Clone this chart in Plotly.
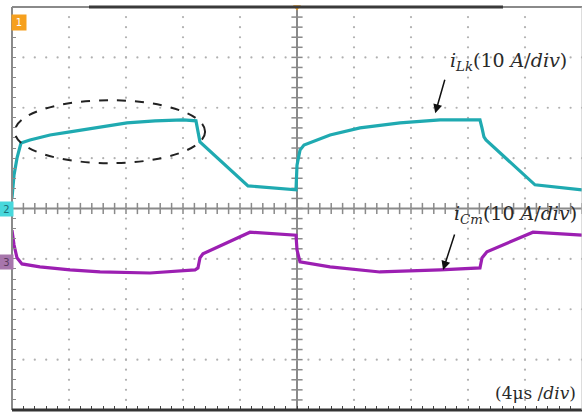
import numpy as np
import plotly.graph_objects as go

# time in microseconds (4 us/div), current in A (10 A/div)
t_lk = [0, 0.14, 0.35, 0.63, 1.26, 2.67, 4.07, 6.18, 8.07, 10.04, 12.0, 12.91, 13.05, 13.19,
        16.56, 19.93, 20.0, 20.21, 20.49, 22.32, 24.42, 27.23, 30.04, 32.84, 32.98, 33.12,
        33.26, 36.7, 40.0]
i_lk = [2.1, 6.6, 10.0, 13.0, 13.6, 14.6, 15.2, 16.2, 17.0, 17.4, 17.6, 17.4, 15.2, 13.2,
        4.5, 3.7, 8.6, 11.6, 12.6, 14.6, 16.0, 17.0, 17.6, 17.6, 16.0, 14.2,
        13.6, 4.7, 3.7]

t_cm = [0, 0.14, 0.35, 0.7, 1.96, 4.07, 6.18, 9.68, 12.84, 13.05, 13.19, 13.4, 16.7, 19.93,
        20.0, 20.21, 22.32, 25.82, 30.04, 32.84, 32.98, 33.33, 36.56, 40.0]
i_cm = [-4.3, -7.2, -9.8, -11.0, -11.6, -12.2, -12.6, -12.8, -12.2, -11.8, -9.8, -9.0, -4.7, -5.3,
        -8.2, -10.6, -11.6, -12.6, -12.2, -11.8, -9.8, -8.6, -4.7, -5.3]

label_lk = "<i>i</i><sub><i>Lk</i></sub>(10 <i>A</i>/<i>div</i>)"
label_cm = "<i>i</i><sub><i>Cm</i></sub>(10 <i>A</i>/<i>div</i>)"
label_t = "(4μs /<i>div</i>)"

X_DIV, Y_DIV = 4.0, 10.0
NX, NY = 10, 8
X0, X1 = 0.0, X_DIV * NX
Y0, Y1 = -Y_DIV * NY / 2, Y_DIV * NY / 2

TEAL = "#1faab1"
MAG = "#9c1fb2"
GRID = "#b0b0b0"
AX = "#8a8a8a"
TXT = "#2a2a2a"

fig = go.Figure()

# graticule dots
gx, gy = [], []
for k in range(1, NX):
    if k == NX // 2:
        continue
    for yy in np.arange(Y0, Y1 + 1e-9, Y_DIV / 5):
        gx.append(k * X_DIV); gy.append(yy)
for k in range(-NY // 2 + 1, NY // 2):
    if k == 0:
        continue
    for xx in np.arange(X0, X1 + 1e-9, X_DIV / 5):
        gx.append(xx); gy.append(k * Y_DIV)
fig.add_trace(go.Scatter(x=gx, y=gy, mode="markers",
                         marker=dict(size=2.2, color=GRID), hoverinfo="skip"))

# centre axes ticks
cx = np.arange(X0, X1 + 1e-9, X_DIV / 5)
cy = np.arange(Y0, Y1 + 1e-9, Y_DIV / 5)
fig.add_trace(go.Scatter(x=cx, y=[0] * len(cx), mode="markers",
                         marker=dict(symbol="line-ns", size=8, line=dict(width=1.5, color=AX)),
                         hoverinfo="skip"))
fig.add_trace(go.Scatter(x=[X1 / 2] * len(cy), y=cy, mode="markers",
                         marker=dict(symbol="line-ew", size=8, line=dict(width=1.5, color=AX)),
                         hoverinfo="skip"))

fig.add_shape(type="line", x0=X0, x1=X1, y0=0, y1=0, line=dict(color=AX, width=2), layer="below")
fig.add_shape(type="line", x0=X1 / 2, x1=X1 / 2, y0=Y0, y1=Y1, line=dict(color=AX, width=2), layer="below")

# traces
fig.add_trace(go.Scatter(x=t_lk, y=i_lk, mode="lines", line=dict(color=TEAL, width=3.2), hoverinfo="skip"))
fig.add_trace(go.Scatter(x=t_cm, y=i_cm, mode="lines", line=dict(color=MAG, width=3.2), hoverinfo="skip"))

# dashed ellipse
fig.add_shape(type="circle", x0=0.2, x1=13.55, y0=9.0, y1=21.5,
              line=dict(color="#222", width=2, dash="dash"))

# borders
fig.add_shape(type="line", xref="paper", yref="paper", x0=0, x1=0, y0=0, y1=1, line=dict(color=AX, width=2))
fig.add_shape(type="line", xref="paper", yref="paper", x0=0, x1=1, y0=1, y1=1, line=dict(color=AX, width=2))
fig.add_shape(type="line", xref="paper", yref="paper", x0=77 / 570, x1=491 / 570, y0=1, y1=1,
              line=dict(color="#3a3a3a", width=3))
fig.add_shape(type="line", xref="paper", yref="paper", x0=0, x1=1, y0=0, y1=0, line=dict(color="#333", width=3))
fig.add_shape(type="line", xref="paper", yref="paper", x0=1, x1=1, y0=0, y1=1, line=dict(color="#bbb", width=1))

# annotations
fig.add_annotation(x=30.6, y=29.1, text=label_lk, showarrow=False, xanchor="left", yanchor="middle",
                   font=dict(family="DejaVu Serif", size=19, color=TXT))
fig.add_annotation(x=30.9, y=-1.1, text=label_cm, showarrow=False, xanchor="left", yanchor="middle",
                   font=dict(family="DejaVu Serif", size=19, color=TXT))
fig.add_annotation(x=39.7, y=-36.6, text=label_t, showarrow=False, xanchor="right", yanchor="middle",
                   font=dict(family="DejaVu Serif", size=17, color=TXT))
fig.add_annotation(x=29.7, y=18.9, ax=10, ay=-35, text="", showarrow=True,
                   arrowhead=2, arrowsize=1.2, arrowwidth=1.5, arrowcolor="#111")
fig.add_annotation(x=30.25, y=-12.2, ax=12, ay=-37, text="", showarrow=True,
                   arrowhead=2, arrowsize=1.2, arrowwidth=1.5, arrowcolor="#111")

# channel markers
fig.add_annotation(xref="paper", yref="paper", x=7 / 570, y=1 - 15 / 403, text="1", showarrow=False,
                   xanchor="center", yanchor="middle",
                   bgcolor="#f6a01e", font=dict(color="white", size=10, family="DejaVu Sans"),
                   borderpad=1, width=12, height=13)
fig.add_annotation(xref="paper", x=-6 / 570, y=0, text="2", showarrow=False,
                   xanchor="center", yanchor="middle",
                   bgcolor="#48d8dc", font=dict(color="#1a6f78", size=10, family="DejaVu Sans"),
                   borderpad=1, width=11, height=12)
fig.add_annotation(xref="paper", x=-6 / 570, y=-10.6, text="3", showarrow=False,
                   xanchor="center", yanchor="middle",
                   bgcolor="#a776ac", font=dict(color="#5a3a5e", size=10, family="DejaVu Sans"),
                   borderpad=1, width=11, height=12)
fig.add_trace(go.Scatter(x=[X1 / 2], y=[Y1], mode="markers", cliponaxis=False,
                         marker=dict(symbol="triangle-down", size=7, color="#f6a01e"), hoverinfo="skip"))

fig.update_xaxes(range=[X0, X1], showgrid=False, zeroline=False, showticklabels=False,
                 ticks="inside", tick0=0, dtick=X_DIV / 5, ticklen=4, tickcolor="#444",
                 showline=False, fixedrange=True)
fig.update_yaxes(range=[Y0, Y1], showgrid=False, zeroline=False, showticklabels=False,
                 ticks="inside", tick0=0, dtick=Y_DIV / 5, ticklen=4, tickcolor=AX,
                 showline=False, fixedrange=True)
fig.update_layout(width=582, height=412, margin=dict(l=12, r=0, t=7, b=2),
                  plot_bgcolor="white", paper_bgcolor="white", showlegend=False)

fig.write_html("out.html", config={"displayModeBar": False},
               post_script="document.body.style.margin='0';document.body.style.overflow='hidden';")
